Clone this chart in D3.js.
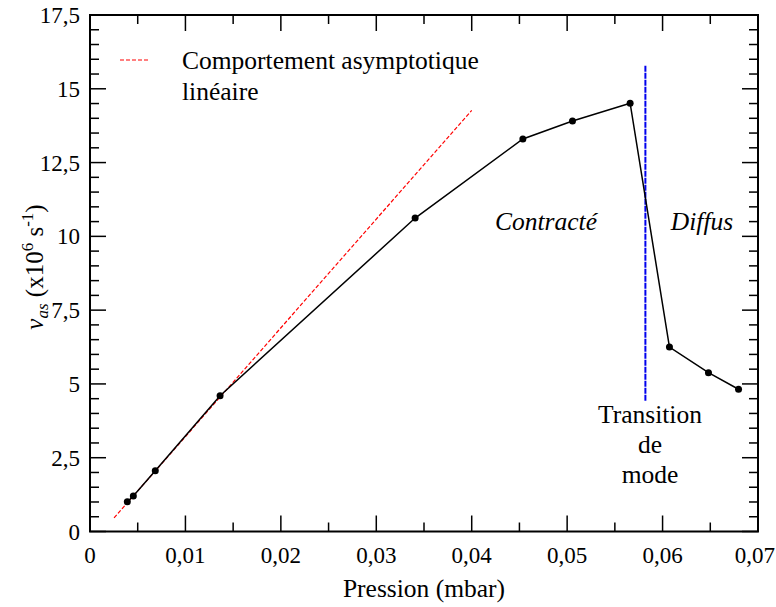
<!DOCTYPE html>
<html><head><meta charset="utf-8">
<script src="https://cdn.jsdelivr.net/npm/d3@7"></script>
<style>body{margin:0;background:#fff}</style>
</head><body><svg id="c" width="776" height="607"></svg>
<script>
const pressure = [0.00391,0.00454,0.00684,0.01363,0.03407,0.04536,0.05056,0.0566,0.06072,0.06481,0.06796];
const frequency = [1.01,1.20,2.06,4.60,10.62,13.30,13.91,14.51,6.25,5.38,4.82];
const asymptoteX = [0.00252,0.04];
const asymptoteY = [0.46,14.27];
const transitionX = 0.0582;
const transitionY = [4.43,15.78];
const xTicks = [0,0.01,0.02,0.03,0.04,0.05,0.06,0.07];
const xTickLabels = ["0","0,01","0,02","0,03","0,04","0,05","0,06","0,07"];
const yTicks = [0,2.5,5,7.5,10,12.5,15,17.5];
const yTickLabels = ["0","2,5","5","7,5","10","12,5","15","17,5"];

const svg = d3.select("#c");
function txt(xp, yp, s, size, anchor, italic) {
  const t = svg.append("text").attr("x", xp).attr("y", yp).attr("font-size", size)
    .style("font-family", '"Liberation Serif"').attr("text-anchor", anchor || "start").text(s);
  if (italic) t.style("font-style", "italic");
  return t;
}
const L=90,R=758,T=15,B=531.5;
const x = d3.scaleLinear().domain([0,0.07]).range([L,R]);
const y = d3.scaleLinear().domain([0,17.5]).range([B,T]);

const xMinor = d3.range(0,0.0701,0.005);
const yMinor = d3.range(0,17.51,0.5);
const g = svg.append("g").attr("stroke","#000").attr("stroke-width",1.5);
xMinor.forEach((v,i)=>{
  const major = i%2===0, len = major?16:9;
  g.append("line").attr("x1",x(v)).attr("x2",x(v)).attr("y1",B).attr("y2",B-len);
  g.append("line").attr("x1",x(v)).attr("x2",x(v)).attr("y1",T).attr("y2",T+len);
});
yMinor.forEach((v,i)=>{
  const major = i%5===0, len = major?16:9;
  g.append("line").attr("y1",y(v)).attr("y2",y(v)).attr("x1",L).attr("x2",L+len);
  g.append("line").attr("y1",y(v)).attr("y2",y(v)).attr("x1",R).attr("x2",R-len);
});
svg.append("rect").attr("x",L).attr("y",T).attr("width",R-L).attr("height",B-T)
  .attr("fill","none").attr("stroke","#000").attr("stroke-width",2);

xTicks.forEach((v,i)=>{
  const last = i === xTicks.length-1;
  txt(last ? 775 : x(v), B+31, xTickLabels[i], 23, last ? "end" : "middle");
});
yTicks.forEach((v,i)=>txt(L-10, y(v)+8, yTickLabels[i], 23, "end"));

svg.append("line").attr("x1",x(asymptoteX[0])).attr("y1",y(asymptoteY[0]))
  .attr("x2",x(asymptoteX[1])).attr("y2",y(asymptoteY[1]))
  .attr("stroke","#ff0000").attr("stroke-width",1.2).attr("stroke-dasharray","4,2");

svg.append("line").attr("x1",x(transitionX)).attr("x2",x(transitionX))
  .attr("y1",y(transitionY[0])).attr("y2",y(transitionY[1]))
  .attr("stroke","#0000ee").attr("stroke-width",2).attr("stroke-dasharray","6,1");

const pts = pressure.map((p,i)=>[p,frequency[i]]);
svg.append("path").datum(pts).attr("fill","none").attr("stroke","#000").attr("stroke-width",1.5)
  .attr("d",d3.line().x(d=>x(d[0])).y(d=>y(d[1])));
svg.selectAll("circle.pt").data(pts).enter().append("circle")
  .attr("cx",d=>x(d[0])).attr("cy",d=>y(d[1])).attr("r",3.5).attr("fill","#000");

svg.append("line").attr("x1",120).attr("x2",150).attr("y1",60).attr("y2",60)
  .attr("stroke","#ff0000").attr("stroke-width",1.2).attr("stroke-dasharray","4,2");
txt(182, 69, "Comportement asymptotique", 25.5);
txt(182, 100, "linéaire", 25.5);

txt(546, 230, "Contracté", 25.5, "middle", true);
txt(702, 230, "Diffus", 25.5, "middle", true);
["Transition","de","mode"].forEach((t,i)=>txt(650, 423+i*30, t, 25.5, "middle"));

txt((L+R)/2, 597, "Pression (mbar)", 25.5, "middle");

const yl = svg.append("text").attr("transform","translate(43,267) rotate(-90)")
  .attr("text-anchor","middle").attr("font-size",25).style("font-family",'"Liberation Serif"');
yl.append("tspan").style("font-style","italic").text("v");
yl.append("tspan").style("font-style","italic").attr("font-size",17).attr("dy",5).text("as");
yl.append("tspan").attr("dy",-5).text(" (x10");
yl.append("tspan").attr("font-size",17).attr("dy",-10).text("6");
yl.append("tspan").attr("dy",10).text(" s");
yl.append("tspan").attr("font-size",17).attr("dy",-10).text("-1");
yl.append("tspan").attr("dy",10).text(")");
</script></body></html>
